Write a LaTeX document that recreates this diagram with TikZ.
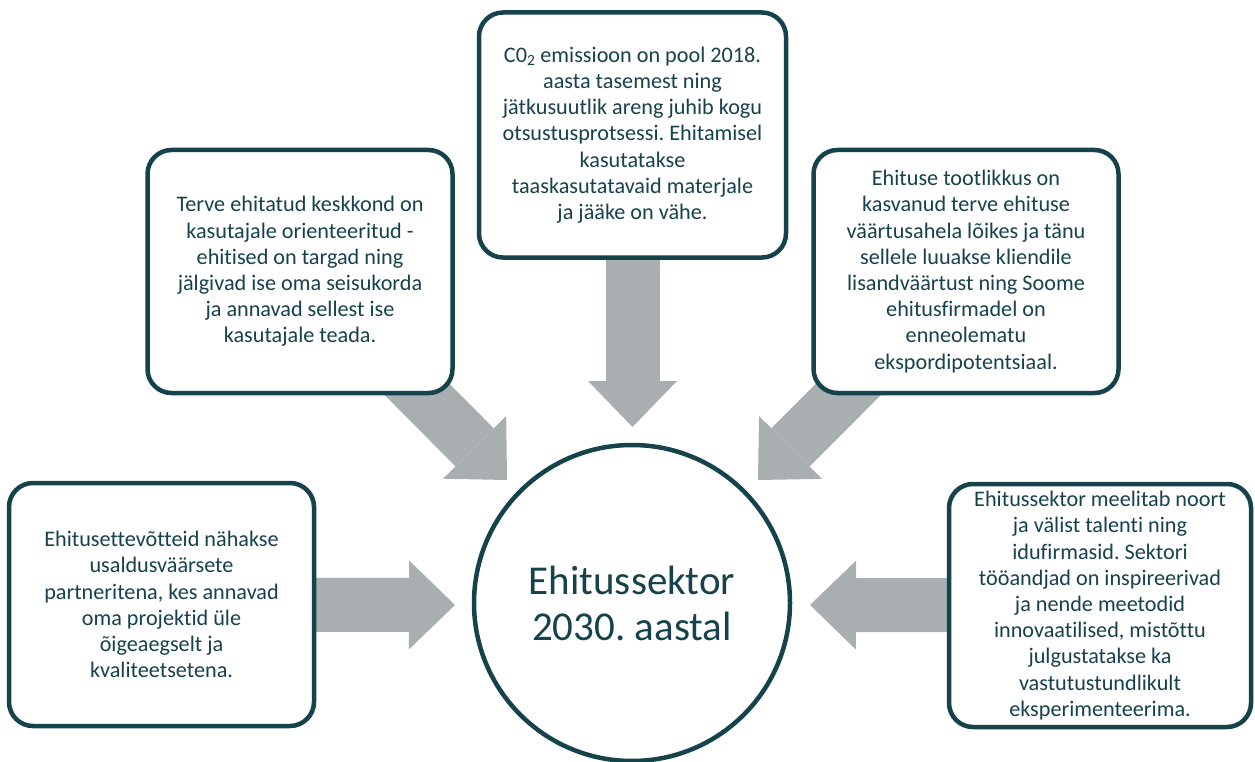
\documentclass[tikz,border=0pt]{standalone}
\usepackage{fontspec}
\setmainfont{Carlito}[Ligatures=NoCommon]
\frenchspacing
\usetikzlibrary{arrows.meta, positioning, backgrounds}
\definecolor{cteal}{HTML}{16424C}
\definecolor{cgrey}{HTML}{A9AFB0}
\tikzset{
  every picture/.style={line width=4.5pt},
  goal/.style={draw=cteal, fill=white, text=cteal, rounded corners=24pt, align=center,
    inner sep=4pt, minimum width=305pt, minimum height=243pt,
    font=\fontsize{22.2}{26.2}\selectfont},
  hub/.style={circle, draw=cteal, fill=white, text=cteal, align=center,
    minimum size=316pt, font=\fontsize{41}{46}\selectfont},
  flow/.style={-{Triangle[width=89pt, length=46pt, line width=0pt]}, draw=cgrey, line width=54pt},
}
\begin{document}
\begin{tikzpicture}[x=1pt, y=-1pt]
  \useasboundingbox (0,0) rectangle (1255,762);
  \node[hub] (hub) at (632,603) {Ehitussektor\\2030. aastal};
  \node[goal, minimum width=307pt, minimum height=245pt] (top) at (632.5,135)
    {C0\textsubscript{2} emissioon on pool 2018.\\aasta tasemest ning\\jätkusuutlik areng juhib kogu\\otsustusprotsessi. Ehitamisel\\kasutatakse\\taaskasutatavaid materjale\\ja jääke on vähe.};
  \node[goal] (tl) at (300,271.5)
    {Terve ehitatud keskkond on\\kasutajale orienteeritud -\\ehitised on targad ning\\jälgivad ise oma seisukorda\\ja annavad sellest ise\\kasutajale teada.};
  \node[goal] (tr) at (966,271.5)
    {Ehituse tootlikkus on\\kasvanud terve ehituse\\väärtusahela lõikes ja tänu\\sellele luuakse kliendile\\lisandväärtust ning Soome\\ehitusfirmadel on\\enneolematu\\ekspordipotentsiaal.};
  \node[goal] (bl) at (161.5,604.5)
    {Ehitusettevõtteid nähakse\\usaldusväärsete\\partneritena, kes annavad\\oma projektid üle\\õigeaegselt ja\\kvaliteetsetena.};
  \node[goal, minimum width=302pt] (br) at (1100,605.5)
    {Ehitussektor meelitab noort\\ja välist talenti ning\\idufirmasid. Sektori\\tööandjad on inspireerivad\\ja nende meetodid\\innovaatilised, mistõttu\\julgustatakse ka\\vastutustundlikult\\eksperimenteerima.};
  % arrow tips in front of the hub
  \coordinate (ttop) at (632.5,427);
  \coordinate (ttl) at (507,480);
  \coordinate (ttr) at (758,480);
  \coordinate (tbl) at (455,605);
  \coordinate (tbr) at (810,605);
  \begin{scope}[on background layer]
    \foreach \src/\tip in {top/ttop, tl/ttl, tr/ttr, bl/tbl, br/tbr}
      \draw[flow] (\src.center) -- (\tip);
  \end{scope}
\end{tikzpicture}
\end{document}
